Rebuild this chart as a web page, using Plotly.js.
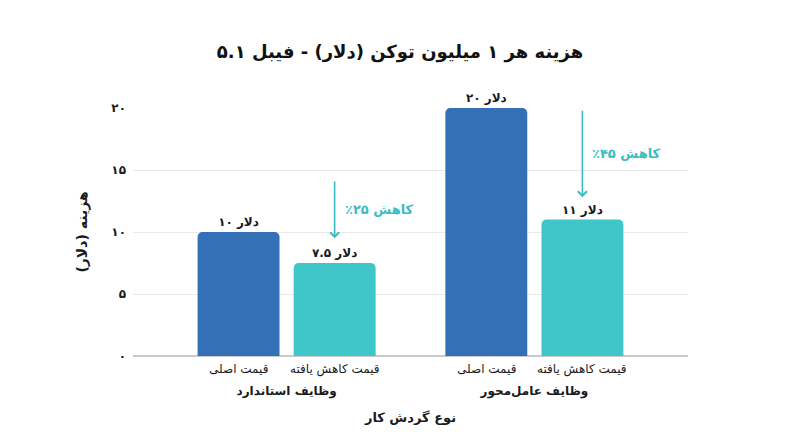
<!DOCTYPE html>
<html>
<head>
<meta charset="utf-8">
<script src="https://cdn.plot.ly/plotly-3.0.1.min.js"></script>
<style>
  html, body { margin: 0; padding: 0; background: #fff; }
  #chart { width: 800px; height: 447px; }
</style>
</head>
<body>
<div id="chart"></div>
<script>
// ---- data ----
var groups = ['وظایف استاندارد', 'وظایف عامل‌محور'];
var seriesNames = ['قیمت اصلی', 'قیمت کاهش یافته'];
var originalCost = [10, 20];
var reducedCost = [7.5, 11];
var yTicks = [0, 5, 10, 15, 20];

var RLM = '\u200F';
var FONT = 'DejaVu Sans, sans-serif';
var BLUE = '#3470b5';
var TEAL = '#3ec6c8';
var TEAL_TEXT = '#3bbcc1';

function toFa(n) {
    return String(n).replace(/\d/g, function (d) { return '۰۱۲۳۴۵۶۷۸۹'[d]; });
}
function dollarLabels(arr) {
    return arr.map(function (v) { return toFa(v) + ' دلار'; });
}

var traceOriginal = {
    type: 'bar',
    name: seriesNames[0],
    x: groups,
    y: originalCost,
    text: dollarLabels(originalCost),
    textposition: 'outside',
    cliponaxis: false,
    textfont: { family: FONT, size: 12, color: '#1a1a1a', weight: 'bold' },
    marker: { color: BLUE, cornerradius: 5 },
    hoverinfo: 'none'
};

var traceReduced = {
    type: 'bar',
    name: seriesNames[1],
    x: groups,
    y: reducedCost,
    text: dollarLabels(reducedCost),
    textposition: 'outside',
    cliponaxis: false,
    textfont: { family: FONT, size: 12, color: '#1a1a1a', weight: 'bold' },
    marker: { color: TEAL, cornerradius: 5 },
    hoverinfo: 'none'
};

// ---- annotations: sub labels, arrows, reduction text ----
var BAR_SHIFT = 48;
var annotations = [];
var arrowHead = [9.5, 12.8];
var arrowTail = [14.2, 19.9];

groups.forEach(function (g, i) {
    seriesNames.forEach(function (s, j) {
        annotations.push({
            x: g, xref: 'x', xshift: j === 0 ? -BAR_SHIFT : BAR_SHIFT,
            y: 0, yref: 'y', yanchor: 'top', yshift: -4,
            text: s, showarrow: false,
            font: { family: FONT, size: 12, color: '#1a1a1a' }
        });
    });

    var pct = Math.round((1 - reducedCost[i] / originalCost[i]) * 100);
    annotations.push({
        x: g, xref: 'x', xshift: BAR_SHIFT,
        y: arrowHead[i], yref: 'y',
        ax: 0, axref: 'pixel',
        ay: arrowTail[i], ayref: 'y',
        text: '', showarrow: true,
        arrowhead: 4, arrowsize: 1.1, arrowwidth: 1.6,
        arrowcolor: TEAL_TEXT, standoff: 0, startstandoff: 0
    });
    annotations.push({
        x: g, xref: 'x', xshift: BAR_SHIFT + 8, xanchor: 'left',
        y: (arrowHead[i] + arrowTail[i]) / 2, yref: 'y',
        text: 'کاهش ' + toFa(pct) + '٪' + RLM, showarrow: false,
        font: { family: FONT, size: 13, color: TEAL_TEXT, weight: 'bold' }
    });
});

var layout = {
    width: 800,
    height: 447,
    margin: { l: 133, r: 112, t: 108, b: 91 },
    paper_bgcolor: '#fff',
    plot_bgcolor: '#fff',
    showlegend: false,
    barmode: 'group',
    bargap: 0.224,
    bargroupgap: 0.148,
    title: {
        text: 'هزینه هر ۱ میلیون توکن (دلار) - فیبل ۵.۱',
        x: 0.5, xanchor: 'center', y: 0.885, yanchor: 'middle',
        font: { family: FONT, size: 18, color: '#111', weight: 'bold' }
    },
    xaxis: {
        type: 'category',
        range: [-0.62, 1.62],
        showgrid: false,
        showline: false,
        zeroline: false,
        ticks: '',
        ticklabelstandoff: 26,
        tickfont: { family: FONT, size: 12, color: '#1a1a1a', weight: 'bold' },
        title: {
            text: 'نوع گردش کار',
            standoff: 14,
            font: { family: FONT, size: 13, color: '#1a1a1a', weight: 'bold' }
        },
        fixedrange: true
    },
    yaxis: {
        range: [0, 20],
        tickmode: 'array',
        tickvals: yTicks,
        ticktext: yTicks.map(toFa),
        showgrid: true,
        gridcolor: '#e9e9e9',
        gridwidth: 1,
        zeroline: true,
        zerolinecolor: '#c9c9c9',
        zerolinewidth: 2,
        showline: false,
        ticks: '',
        ticklabelstandoff: 6,
        tickfont: { family: FONT, size: 12, color: '#1a1a1a', weight: 'bold' },
        title: {
            text: 'هزینه (دلار)' + RLM,
            standoff: 20,
            font: { family: FONT, size: 14, color: '#1a1a1a', weight: 'bold' }
        },
        fixedrange: true
    },
    annotations: annotations
};

Plotly.newPlot('chart', [traceOriginal, traceReduced], layout, { displayModeBar: false, staticPlot: true });
</script>
</body>
</html>
